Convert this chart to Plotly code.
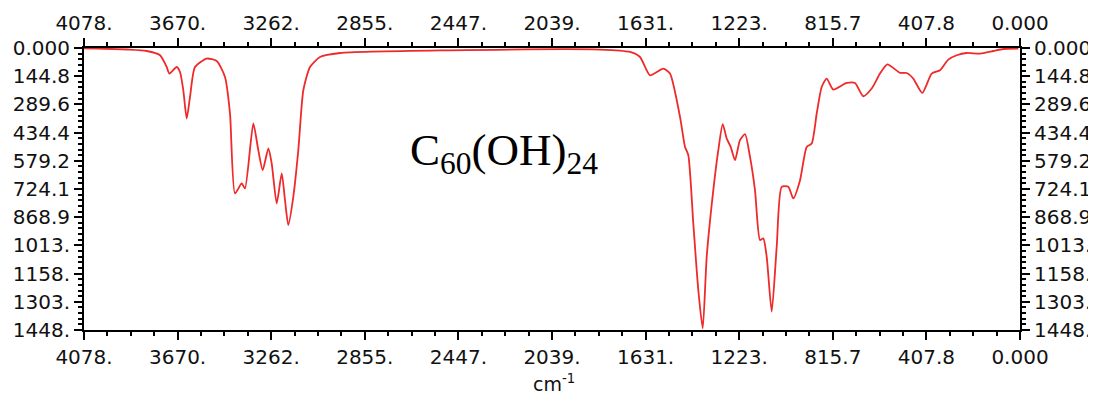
import plotly.graph_objects as go

# Spectrum trace (wavenumber in cm-1, reversed-axis value)
wavenumber = [4078, 4015.7, 3877.6, 3804.8, 3746.8, 3717.7, 3706.3, 3674.1, 3659.7, 3645.3, 3630.5,
              3616.1, 3594.4, 3543.4, 3499.8, 3463.7, 3441.9, 3420.1, 3390.9, 3376.5, 3340.3,
              3318.6, 3299.4, 3274.9, 3260.2, 3238.4, 3216.6, 3202.3, 3187.9, 3166.1, 3144.3,
              3122.5, 3093.3, 3049.8, 2962.6, 2483.4, 1829.9, 1699.2, 1655.6, 1612.0, 1554.1,
              1524.9, 1481.3, 1459.5, 1445.1, 1423.4, 1401.6, 1382.4, 1365.0, 1336.2, 1314.4,
              1295.3, 1277.8, 1260.4, 1241.7, 1219.9, 1198.1, 1176.3, 1154.6, 1132.8, 1118.4,
              1103.6, 1081.8, 1060.0, 1038.2, 1009.5, 987.7, 958.5, 929.3, 907.5, 885.7,
              864.0, 842.2, 813.4, 755.0, 718.9, 682.7, 646.1, 610.0, 578.2, 522.8,
              493.6, 464.9, 425.7, 384.7, 348.5, 312.4, 275.8, 232.2, 174.3, 116.3,
              72.8, 7.4]
absorb = [2, 3.1, 8.2, 15.4, 37.4, 97.5, 131.3, 97.5, 123.1, 217.0, 362.1,
          251.3, 97.5, 54.4, 66.7, 148.7, 336.5, 746.8, 695.5, 721.1, 387.8,
          524.7, 627.3, 516.0, 593.0, 798.1, 644.2, 781.1, 909.4, 764.2, 524.7,
          217.0, 97.5, 46.2, 25.6, 11.8, 8.2, 20.5, 46.2, 140.0, 105.7,
          131.3, 353.9, 507.8, 550.3, 900.7, 1242.8, 1440.0, 1072.0, 729.9, 524.7,
          391.3, 464.7, 507.8, 576.0, 473.4, 442.6, 559.1, 729.9, 986.3, 977.6,
          1072.0, 1354.1, 1020.7, 712.9, 712.9, 772.4, 680.1, 507.8, 490.3, 336.5,
          200.0, 157.0, 213.4, 179.5, 179.5, 247.7, 208.2, 131.3, 83.6, 127.2,
          128.2, 157.0, 230.8, 131.3, 114.4, 59.5, 37.4, 25.6, 28.7, 15.4,
          5.1, 3.1]

x_tickvals = [4078, 3670.2, 3262.4, 2854.6, 2446.8, 2039, 1631.2, 1223.4, 815.6, 407.8, 0]
x_ticktext = ["4078.", "3670.", "3262.", "2855.", "2447.", "2039.", "1631.", "1223.", "815.7", "407.8", "0.000"]
y_tickvals = [0, 144.8, 289.6, 434.4, 579.2, 724.1, 868.9, 1013.4, 1158.2, 1303.0, 1448]
y_ticktext = ["0.000", "144.8", "289.6", "434.4", "579.2", "724.1", "868.9", "1013.", "1158.", "1303.", "1448."]

tickfont = dict(family="DejaVu Sans", size=20, color="#111111")

fig = go.Figure()
fig.add_trace(go.Scatter(x=wavenumber, y=absorb, mode="lines",
                         line=dict(color="#ee2a2a", width=1.8, shape="spline", smoothing=0.6),
                         showlegend=False, hoverinfo="skip"))
fig.add_trace(go.Scatter(x=[None], y=[None], xaxis="x2", yaxis="y2", showlegend=False))

common_x = dict(range=[4078, 0], tickmode="array", tickvals=x_tickvals, ticktext=x_ticktext,
                ticks="outside", ticklen=8, tickwidth=2, tickcolor="black",
                showline=True, linecolor="black", linewidth=1.5, showgrid=False, zeroline=False,
                tickfont=tickfont, automargin=False,
                minor=dict(ticks="outside", ticklen=4, tickwidth=2, tickcolor="black",
                           tickmode="linear", tick0=0, dtick=101.95, showgrid=False))
common_y = dict(range=[1448, 0], tickmode="array", tickvals=y_tickvals, ticktext=y_ticktext,
                ticks="outside", ticklen=8, tickwidth=2, tickcolor="black",
                showline=True, linecolor="black", linewidth=2, showgrid=False, zeroline=False,
                tickfont=tickfont, automargin=False,
                minor=dict(ticks="outside", ticklen=4, tickwidth=2, tickcolor="black",
                           tickmode="linear", tick0=0, dtick=28.96, showgrid=False))

fig.update_layout(
    width=1088, height=388,
    margin=dict(l=76, r=76, t=40, b=66),
    paper_bgcolor="white", plot_bgcolor="white",
    xaxis=dict(side="bottom", **common_x),
    xaxis2=dict(side="top", overlaying="x", anchor="y", **common_x),
    yaxis=dict(side="left", **common_y),
    yaxis2=dict(side="right", overlaying="y", anchor="x", **common_y),
    annotations=[
        dict(text="cm<sup>-1</sup>", x=0.502, xref="paper", y=-0.188, yref="paper",
             xanchor="center", yanchor="middle", showarrow=False,
             font=dict(family="DejaVu Sans", size=19, color="#111111")),
        dict(text="C<sub>60</sub>(OH)<sub>24</sub>", x=2248, xref="x", y=540, yref="y",
             xanchor="center", yanchor="middle", showarrow=False,
             font=dict(family="Liberation Serif", size=45, color="black")),
    ],
)

fig.write_html("out.html")
